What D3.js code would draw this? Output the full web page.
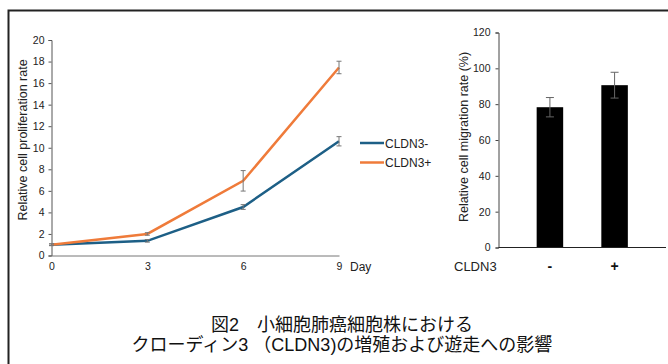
<!DOCTYPE html>
<html>
<head>
<meta charset="utf-8">
<script src="https://cdn.jsdelivr.net/npm/d3@7"></script>
<style>
  body { margin: 0; background: #fff; }
  svg { display: block; font-family: "Liberation Sans", Arial, sans-serif; }
</style>
</head>
<body>
<div id="root"></div>
<script>
// proliferation data (days)
var days = [0, 3, 6, 9];
var negVals = [1.0, 1.36, 4.5, 10.6];
var negErr = [0.08, 0.12, 0.22, 0.43];
var posVals = [1.0, 2.0, 6.93, 17.45];
var posErr = [0.08, 0.12, 0.95, 0.58];
var seriesNames = ["CLDN3-", "CLDN3+"];
var yTicksLeft = [0, 2, 4, 6, 8, 10, 12, 14, 16, 18, 20];

// migration data
var migCats = ["-", "+"];
var migVals = [78.3, 90.6];
var migErr = [5.4, 7.2];
var yTicksRight = [0, 20, 40, 60, 80, 100, 120];

var captionLines = ["図2　小細胞肺癌細胞株における", "クローディン3 （CLDN3)の増殖および遊走への影響"];

var w = 668, h = 364;
var blue = "#1d5f86", orange = "#ef7b3a", errCol = "#777";

var svg = d3.select("#root").append("svg").attr("width", w).attr("height", h);

// frame
svg.append("path").attr("d", "M8.5," + h + "V10.5H" + w)
  .attr("fill", "none").attr("stroke", "#222").attr("stroke-width", 2);

// ---- left chart
var x = d3.scaleLinear().domain([0, 9]).range([51.5, 339]);
var y = d3.scaleLinear().domain([0, 20]).range([255.5, 40]);

var gL = svg.append("g");
gL.append("g").attr("transform", "translate(51.5,0)")
  .call(d3.axisLeft(y).tickValues(yTicksLeft).tickSize(3).tickPadding(4))
  .call(function(g) {
    g.select(".domain").attr("stroke", "#555");
    g.selectAll(".tick line").attr("stroke", "#555");
    g.selectAll("text").attr("font-size", 10.5).attr("fill", "#222");
  });
gL.append("g").attr("transform", "translate(0,255.5)")
  .call(d3.axisBottom(x).tickValues(days).tickSize(0).tickPadding(7).tickSizeOuter(0))
  .call(function(g) {
    g.select(".domain").attr("stroke", "#777");
    g.selectAll("text").attr("font-size", 10.5).attr("fill", "#222");
  });
gL.append("text").attr("x", 350).attr("y", 271).attr("font-size", 12).attr("fill", "#222").text("Day");
gL.append("text").attr("transform", "translate(27,140) rotate(-90)")
  .attr("text-anchor", "middle").attr("font-size", 12.5).attr("fill", "#222")
  .text("Relative cell proliferation rate");

var series = [
  { name: seriesNames[0], vals: negVals, err: negErr, color: blue },
  { name: seriesNames[1], vals: posVals, err: posErr, color: orange }
];
var line = d3.line().x(function(d) { return x(d[0]); }).y(function(d) { return y(d[1]); });

series.forEach(function(s) {
  var pts = days.map(function(d, i) { return [d, s.vals[i], s.err[i]]; });
  gL.append("path").datum(pts).attr("d", line)
    .attr("fill", "none").attr("stroke", s.color).attr("stroke-width", 2.5);
});
series.forEach(function(s) {
  days.forEach(function(d, i) {
    var cx = x(d), y1 = y(s.vals[i] + s.err[i]), y2 = y(s.vals[i] - s.err[i]);
    var eb = gL.append("g").attr("stroke", errCol).attr("stroke-width", 1);
    eb.append("line").attr("x1", cx).attr("x2", cx).attr("y1", y1).attr("y2", y2);
    eb.append("line").attr("x1", cx - 2.5).attr("x2", cx + 2.5).attr("y1", y1).attr("y2", y1);
    eb.append("line").attr("x1", cx - 2.5).attr("x2", cx + 2.5).attr("y1", y2).attr("y2", y2);
  });
});

// legend
series.forEach(function(s, i) {
  var ly = 143 + i * 19.5;
  svg.append("line").attr("x1", 360).attr("x2", 384).attr("y1", ly).attr("y2", ly)
    .attr("stroke", s.color).attr("stroke-width", 2.5);
  svg.append("text").attr("x", 385).attr("y", ly + 4.5).attr("font-size", 12).attr("fill", "#222").text(s.name);
});

// ---- right chart
var xb = d3.scaleBand().domain(migCats).range([498.5, 666]).padding(0.59);
var yb = d3.scaleLinear().domain([0, 120]).range([247.5, 32.5]);

var gR = svg.append("g");
gR.append("g").attr("transform", "translate(498.5,0)")
  .call(d3.axisLeft(yb).tickValues(yTicksRight).tickSize(3).tickPadding(5))
  .call(function(g) {
    g.select(".domain").attr("stroke", "#444");
    g.selectAll(".tick line").attr("stroke", "#444");
    g.selectAll("text").attr("font-size", 10.5).attr("fill", "#222");
  });

gR.selectAll("rect.bar").data(migCats).enter().append("rect").attr("class", "bar")
  .attr("x", function(d) { return xb(d); })
  .attr("width", xb.bandwidth())
  .attr("y", function(d, i) { return yb(migVals[i]); })
  .attr("height", function(d, i) { return yb(0) - yb(migVals[i]); })
  .attr("fill", "#000");

gR.append("line").attr("x1", 498.5).attr("x2", 666).attr("y1", 247.5).attr("y2", 247.5)
  .attr("stroke", "#222").attr("stroke-width", 1);

migCats.forEach(function(c, i) {
  var cx = xb(c) + xb.bandwidth() / 2;
  var y1 = yb(migVals[i] + migErr[i]), y2 = yb(migVals[i] - migErr[i]);
  var eb = gR.append("g").attr("stroke", "#666").attr("stroke-width", 1);
  eb.append("line").attr("x1", cx).attr("x2", cx).attr("y1", y1).attr("y2", y2);
  eb.append("line").attr("x1", cx - 4).attr("x2", cx + 4).attr("y1", y1).attr("y2", y1);
  eb.append("line").attr("x1", cx - 4).attr("x2", cx + 4).attr("y1", y2).attr("y2", y2);
  gR.append("text").attr("x", cx).attr("y", 271).attr("text-anchor", "middle")
    .attr("font-size", 14).attr("font-weight", "bold").attr("fill", "#111").text(c);
});
gR.append("text").attr("x", 454).attr("y", 271).attr("font-size", 13).attr("fill", "#222").text("CLDN3");
gR.append("text").attr("transform", "translate(468,137) rotate(-90)")
  .attr("text-anchor", "middle").attr("font-size", 12.5).attr("fill", "#222")
  .text("Relative cell migration rate (%)");

// caption
captionLines.forEach(function(t, i) {
  svg.append("text").attr("x", 342).attr("y", 330.5 + i * 20.5).attr("text-anchor", "middle")
    .attr("font-family", "'Liberation Sans', 'Noto Sans CJK JP', sans-serif")
    .attr("font-size", 18).attr("fill", "#111")
    .text(t);
});
</script>
</body>
</html>
